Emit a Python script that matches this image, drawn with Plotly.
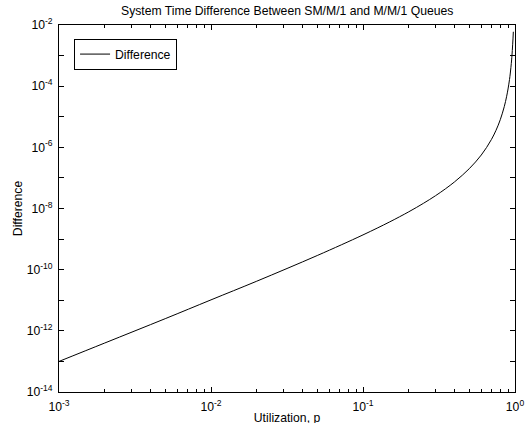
import plotly.graph_objects as go

# Utilization values (x) and the plotted difference (y)
rho = [0.001, 0.002, 0.005, 0.01, 0.02, 0.05, 0.1, 0.15, 0.2, 0.25, 0.3, 0.35,
       0.4, 0.45, 0.5, 0.55, 0.6, 0.65, 0.7, 0.75, 0.8, 0.85, 0.88, 0.9, 0.92,
       0.93, 0.94, 0.95, 0.955, 0.96, 0.965, 0.97, 0.975]
diff = [1.0e-13, 4.0e-13, 2.5e-12, 1.03e-11, 4.2e-11, 2.9e-10, 1.37e-9, 3.66e-9,
        7.8e-9, 1.48e-8, 2.62e-8, 4.46e-8, 7.4e-8, 1.22e-7, 2.0e-7, 3.32e-7,
        5.6e-7, 9.85e-7, 1.81e-6, 3.6e-6, 8.0e-6, 2.14e-5, 4.5e-5, 8.1e-5,
        1.65e-4, 2.5e-4, 4.1e-4, 7.2e-4, 1.0e-3, 1.47e-3, 2.25e-3, 3.5e-3, 6.0e-3]

x_exps = [-3, -2, -1, 0]
y_exps = list(range(-14, -1))
x_minor = [m * 10.0 ** e for e in x_exps[:-1] for m in range(2, 10)]


def pow_label(e):
    return "10<sup>%d</sup>" % e


FS = 12.2
font = dict(family="Liberation Sans, Arial, sans-serif", size=FS, color="black")

fig = go.Figure()
fig.add_trace(go.Scatter(x=rho, y=diff, mode="lines", name="Difference",
                         line=dict(color="black", width=1, shape="spline")))

fig.update_layout(
    width=536, height=434,
    margin=dict(l=59, r=12, t=25, b=36),
    paper_bgcolor="white", plot_bgcolor="white",
    font=font,
    showlegend=True,
    legend=dict(x=0.033, y=0.963, xanchor="left", yanchor="top",
                bordercolor="black", borderwidth=1, bgcolor="white",
                font=dict(size=FS)),
)

fig.add_annotation(text="System Time Difference Between SM/M/1 and M/M/1 Queues",
                   xref="paper", yref="paper", x=0.5, y=1 + 14 / 373,
                   xanchor="center", yanchor="middle", showarrow=False,
                   font=dict(size=FS))

fig.update_xaxes(
    type="log", range=[-3, 0],
    tickmode="array",
    tickvals=[10.0 ** e for e in x_exps],
    ticktext=[pow_label(e) for e in x_exps],
    ticks="inside", ticklen=5, tickcolor="black",
    minor=dict(tickmode="array", tickvals=x_minor, ticks="inside",
               ticklen=3, tickcolor="black"),
    showline=True, linecolor="black", linewidth=1, mirror="ticks",
    showgrid=False, zeroline=False,
    ticklabelstandoff=3,
    title=dict(text="Utilization, p", standoff=0, font=dict(size=FS)),
    tickfont=dict(size=FS),
)

fig.update_yaxes(
    type="log", range=[-14, -2],
    tickmode="array",
    tickvals=[10.0 ** e for e in y_exps],
    ticktext=[pow_label(e) if e % 2 == 0 else "" for e in y_exps],
    ticks="inside", ticklen=5, tickcolor="black",
    showline=True, linecolor="black", linewidth=1, mirror="ticks",
    showgrid=False, zeroline=False,
    ticklabelstandoff=3,
    title=dict(text="Difference", standoff=1, font=dict(size=FS)),
    tickfont=dict(size=FS),
)

fig.write_html("out.html",
               config={"displayModeBar": False},
               post_script="document.body.style.margin='0';"
                           "document.body.style.overflow='hidden';")
